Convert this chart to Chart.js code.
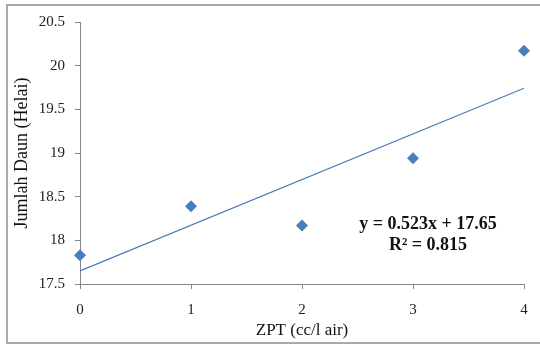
<!DOCTYPE html>
<html>
<head>
<meta charset="utf-8">
<script src="https://cdn.jsdelivr.net/npm/chart.js@4/dist/chart.umd.min.js"></script>
<style>
  html, body { margin: 0; padding: 0; background: #ffffff; }
  #wrap { width: 540px; height: 347px; position: relative; }
</style>
</head>
<body>
<div id="wrap"><canvas id="c" width="540" height="347"></canvas></div>
<script>
// Data
const zptLevels = [0, 1, 2, 3, 4];
const leafCounts = [17.83, 18.39, 18.17, 18.94, 20.17];
const trendSlope = 0.523;
const trendIntercept = 17.65;
const trendLabelLines = ['y = 0.523x + 17.65', 'R\u00B2 = 0.815'];
const xAxisTitle = 'ZPT (cc/l air)';
const yAxisTitle = 'Jumlah Daun (Helai)';

const scatterPoints = zptLevels.map((x, i) => ({ x: x, y: leafCounts[i] }));
const xMin = zptLevels[0], xMax = zptLevels[zptLevels.length - 1];
const trendPoints = [
  { x: xMin, y: trendIntercept + trendSlope * xMin },
  { x: xMax, y: trendIntercept + trendSlope * xMax }
];

const FONT = '"Liberation Serif", "DejaVu Serif", serif';
const BLUE = '#4a7ebb';
const AXIS = '#868686';

const frame = {
  id: 'frame',
  beforeDraw(chart) {
    const ctx = chart.ctx;
    ctx.save();
    ctx.fillStyle = '#ffffff';
    ctx.fillRect(0, 0, chart.width, chart.height);
    ctx.strokeStyle = '#a9a9a9';
    ctx.lineWidth = 2;
    ctx.strokeRect(7, 5, 545, 338);
    ctx.restore();
  },
  afterDraw(chart) {
    const ctx = chart.ctx;
    ctx.save();
    ctx.fillStyle = '#111111';
    ctx.font = 'bold 18px ' + FONT;
    ctx.textAlign = 'center';
    ctx.textBaseline = 'middle';
    const cx = 428;
    ctx.fillText(trendLabelLines[0], cx, 224);
    ctx.fillText(trendLabelLines[1], cx, 245);
    ctx.restore();
  }
};

new Chart(document.getElementById('c'), {
  type: 'scatter',
  data: {
    datasets: [
      {
        data: scatterPoints,
        pointStyle: 'rectRot',
        pointRadius: 6,
        pointHoverRadius: 6,
        backgroundColor: BLUE,
        borderColor: BLUE,
        borderWidth: 0,
        showLine: false,
        clip: false
      },
      {
        data: trendPoints,
        showLine: true,
        pointRadius: 0,
        borderColor: BLUE,
        borderWidth: 1.2,
        fill: false,
        clip: false
      }
    ]
  },
  plugins: [frame],
  options: {
    responsive: false,
    animation: false,
    devicePixelRatio: 1,
    layout: { padding: { left: 0, right: 16, top: 22, bottom: 0 } },
    plugins: { legend: { display: false }, tooltip: { enabled: false } },
    scales: {
      x: {
        type: 'linear',
        min: 0, max: 4,
        afterFit(s) { s.height = 63; },
        ticks: { stepSize: 1, color: '#222', font: { family: FONT, size: 15 }, padding: 12, callback: v => String(v) },
        grid: { display: true, drawOnChartArea: false, drawTicks: true, tickLength: 5, color: AXIS },
        border: { display: true, color: AXIS, width: 1 },
        title: { display: true, text: xAxisTitle, color: '#111', font: { family: FONT, size: 17 }, padding: { top: 0, bottom: 6 } }
      },
      y: {
        type: 'linear',
        min: 17.5, max: 20.5,
        afterFit(s) { s.width = 80; },
        ticks: { stepSize: 0.5, color: '#222', font: { family: FONT, size: 15 }, padding: 10, callback: v => String(v) },
        grid: { display: true, drawOnChartArea: false, drawTicks: true, tickLength: 5, color: AXIS },
        border: { display: true, color: AXIS, width: 1 },
        title: { display: true, text: yAxisTitle, color: '#111', font: { family: FONT, size: 18 }, padding: { top: 11, bottom: 0 } }
      }
    }
  }
});
</script>
</body>
</html>
